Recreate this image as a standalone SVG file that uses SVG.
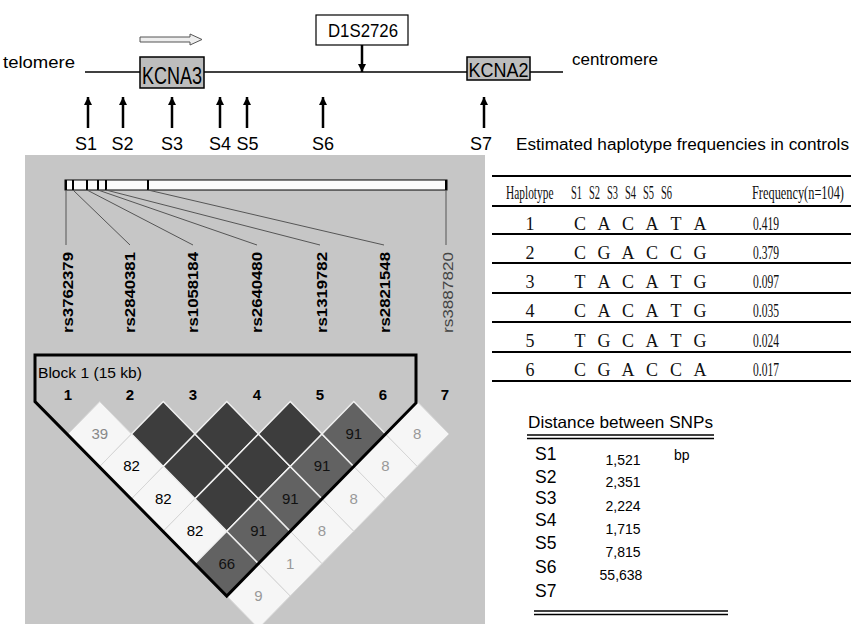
<svg xmlns="http://www.w3.org/2000/svg" width="851" height="624" viewBox="0 0 851 624">
<defs>
<marker id="ah" viewBox="0 0 10 10" refX="10" refY="5" markerWidth="10" markerHeight="8" orient="auto" markerUnits="userSpaceOnUse"><path d="M0,0 L10,5 L0,10 z" fill="#000"/></marker>
</defs>
<style>
.s{font-family:"Liberation Sans",Arial,sans-serif;fill:#000}
.gene{fill:#bdbdbd;stroke:#000;stroke-width:1.5}
.arr{stroke:#000;stroke-width:2.5;fill:none;marker-end:url(#ah)}
.dk{fill:#3d3d3d;stroke:#f0f0f0;stroke-width:1.5}
.md{fill:#626262;stroke:#f0f0f0;stroke-width:1.5}
.wh{fill:#f6f6f6;stroke:#d6d6d6;stroke-width:1}
.ld{font-family:"Liberation Sans",Arial,sans-serif;font-size:15px;text-anchor:middle}
.rs{font-family:"Liberation Sans",Arial,sans-serif;font-size:14px;font-weight:bold}
.num{font-family:"Liberation Sans",Arial,sans-serif;font-size:15px;font-weight:bold;text-anchor:middle}
.rule{stroke:#000;stroke-width:2}
.hd{font-family:"Liberation Serif","Times New Roman",serif;font-size:19px;fill:#111}
.cell{font-family:"Liberation Serif","Times New Roman",serif;font-size:18px;fill:#111;text-anchor:middle}
.tk{stroke:#555;stroke-width:1}
</style>
<rect x="0" y="0" width="851" height="624" fill="#fff"/>

<g id="gene-map">
<text class="s" x="3" y="68" font-size="17" textLength="72" lengthAdjust="spacingAndGlyphs">telomere</text>
<line x1="85" y1="72" x2="563" y2="72" stroke="#000" stroke-width="1.5"/>
<text class="s" x="572" y="65" font-size="17" textLength="86" lengthAdjust="spacingAndGlyphs">centromere</text>
</g>

<g id="KCNA3">
<polygon points="140,37 190,37 190,34 202,39.5 190,45 190,42 140,42" fill="#eee" stroke="#555" stroke-width="1"/>
<rect class="gene" x="140" y="57" width="64" height="31"/>
<text class="s" x="142" y="84" font-size="23" textLength="60" lengthAdjust="spacingAndGlyphs">KCNA3</text>
</g>

<g id="KCNA2">
<rect class="gene" x="467" y="57" width="63" height="23"/>
<text class="s" x="468.5" y="77" font-size="20" textLength="60" lengthAdjust="spacingAndGlyphs">KCNA2</text>
</g>

<g id="D1S2726">
<rect x="316" y="15" width="92" height="30" fill="#fff" stroke="#000" stroke-width="1.2"/>
<text class="s" x="328" y="37" font-size="18" textLength="70" lengthAdjust="spacingAndGlyphs">D1S2726</text>
</g>

<g id="snp-labels" class="s" font-size="18" text-anchor="middle">
<text x="86" y="150">S1</text>
<text x="122.5" y="150">S2</text>
<text x="172" y="150">S3</text>
<text x="220" y="150">S4</text>
<text x="247.5" y="150">S5</text>
<text x="323" y="150">S6</text>
<text x="481" y="150">S7</text>
</g>

<g id="connectors">
<line class="arr" x1="362" y1="45" x2="362" y2="72"/>
<line class="arr" x1="88" y1="128" x2="88" y2="97"/>
<line class="arr" x1="123" y1="128" x2="123" y2="97"/>
<line class="arr" x1="172" y1="128" x2="172" y2="97"/>
<line class="arr" x1="220" y1="128" x2="220" y2="97"/>
<line class="arr" x1="247" y1="128" x2="247" y2="97"/>
<line class="arr" x1="323" y1="128" x2="323" y2="97"/>
<line class="arr" x1="484" y1="128" x2="484" y2="97"/>
</g>

<g id="ld-panel">
<rect x="25" y="155" width="460" height="469" fill="#c6c6c6"/>
<rect x="65" y="180" width="382" height="10" fill="#fbfbfb" stroke="#000" stroke-width="1"/>
<g stroke="#000" stroke-width="2">
<line x1="66" y1="180" x2="66" y2="190"/>
<line x1="73" y1="180" x2="73" y2="190"/>
<line x1="87" y1="180" x2="87" y2="190"/>
<line x1="98" y1="180" x2="98" y2="190"/>
<line x1="106" y1="180" x2="106" y2="190"/>
<line x1="148" y1="180" x2="148" y2="190"/>
<line x1="446" y1="180" x2="446" y2="190"/>
</g>
<g class="tk">
<line x1="66" y1="190" x2="66" y2="245"/>
<line x1="73" y1="190" x2="130" y2="245"/>
<line x1="87" y1="190" x2="193" y2="245"/>
<line x1="98" y1="190" x2="257" y2="245"/>
<line x1="106" y1="190" x2="320" y2="245"/>
<line x1="148" y1="190" x2="384" y2="245"/>
<line x1="446" y1="190" x2="446" y2="245"/>
</g>
<g class="rs">
<text transform="translate(73,333) rotate(-90)" textLength="81" lengthAdjust="spacingAndGlyphs">rs3762379</text>
<text transform="translate(135,333) rotate(-90)" textLength="81" lengthAdjust="spacingAndGlyphs">rs2840381</text>
<text transform="translate(198,333) rotate(-90)" textLength="81" lengthAdjust="spacingAndGlyphs">rs1058184</text>
<text transform="translate(262,333) rotate(-90)" textLength="81" lengthAdjust="spacingAndGlyphs">rs2640480</text>
<text transform="translate(327,333) rotate(-90)" textLength="81" lengthAdjust="spacingAndGlyphs">rs1319782</text>
<text transform="translate(390,333) rotate(-90)" textLength="81" lengthAdjust="spacingAndGlyphs">rs2821548</text>
<text transform="translate(453,333) rotate(-90)" textLength="81" lengthAdjust="spacingAndGlyphs" font-weight="normal" fill="#444">rs3887820</text>
</g>
<text class="s" x="38" y="378" font-size="14.5" textLength="104" lengthAdjust="spacingAndGlyphs">Block 1 (15 kb)</text>
<g class="num">
<text x="68" y="400">1</text><text x="130" y="400">2</text><text x="193" y="400">3</text><text x="257" y="400">4</text><text x="320" y="400">5</text><text x="383" y="400">6</text><text x="445" y="400">7</text>
</g>
<g id="ld-cells">
<polygon class="wh" points="99.75,401.6 131.5,434 99.75,466.4 68,434"/>
<polygon class="wh" points="131.5,434 163.25,466.4 131.5,498.8 99.75,466.4"/>
<polygon class="wh" points="163.25,466.4 195,498.8 163.25,531.2 131.5,498.8"/>
<polygon class="wh" points="195,498.8 226.75,531.2 195,563.6 163.25,531.2"/>
<polygon class="wh" points="258.5,563.6 290.25,596 258.5,628.4 226.75,596"/>
<polygon class="wh" points="290.25,531.2 322,563.6 290.25,596 258.5,563.6"/>
<polygon class="wh" points="322,498.8 353.75,531.2 322,563.6 290.25,531.2"/>
<polygon class="wh" points="353.75,466.4 385.5,498.8 353.75,531.2 322,498.8"/>
<polygon class="wh" points="385.5,434 417.25,466.4 385.5,498.8 353.75,466.4"/>
<polygon class="wh" points="417.25,401.6 449,434 417.25,466.4 385.5,434"/>
<polygon class="dk" points="163.25,401.6 195,434 163.25,466.4 131.5,434"/>
<polygon class="dk" points="195,434 226.75,466.4 195,498.8 163.25,466.4"/>
<polygon class="dk" points="226.75,466.4 258.5,498.8 226.75,531.2 195,498.8"/>
<polygon class="dk" points="226.75,401.6 258.5,434 226.75,466.4 195,434"/>
<polygon class="dk" points="258.5,434 290.25,466.4 258.5,498.8 226.75,466.4"/>
<polygon class="dk" points="290.25,401.6 322,434 290.25,466.4 258.5,434"/>
<polygon class="md" points="226.75,531.2 258.5,563.6 226.75,596 195,563.6" fill="#6a6a6a"/>
<polygon class="md" points="258.5,498.8 290.25,531.2 258.5,563.6 226.75,531.2"/>
<polygon class="md" points="290.25,466.4 322,498.8 290.25,531.2 258.5,498.8"/>
<polygon class="md" points="322,434 353.75,466.4 322,498.8 290.25,466.4"/>
<polygon class="md" points="353.75,401.6 385.5,434 353.75,466.4 322,434"/>
</g>
<g class="ld">
<text x="99.75" y="439" fill="#888">39</text>
<text x="131.5" y="471.4" fill="#000">82</text>
<text x="163.25" y="503.8" fill="#000">82</text>
<text x="195" y="536.2" fill="#000">82</text>
<text x="226.75" y="568.6" fill="#111">66</text>
<text x="258.5" y="601" fill="#999">9</text>
<text x="258.5" y="536.2" fill="#111">91</text>
<text x="290.25" y="568.6" fill="#999">1</text>
<text x="290.25" y="503.8" fill="#111">91</text>
<text x="322" y="536.2" fill="#999">8</text>
<text x="322" y="471.4" fill="#111">91</text>
<text x="353.75" y="503.8" fill="#999">8</text>
<text x="353.75" y="439" fill="#111">91</text>
<text x="385.5" y="471.4" fill="#999">8</text>
<text x="417.25" y="439" fill="#999">8</text>
</g>
<path d="M35,355 L416,355 L416,403 L226.75,596 L35,401.6 Z" fill="none" stroke="#000" stroke-width="3" stroke-linejoin="miter"/>
</g>

<g id="haplotype-table">
<text class="s" x="516" y="150" font-size="16" textLength="333" lengthAdjust="spacingAndGlyphs">Estimated haplotype frequencies in controls</text>
<line class="rule" x1="492" y1="176" x2="851" y2="176"/>
<line class="rule" x1="492" y1="206" x2="851" y2="206"/>
<line class="rule" x1="492" y1="234" x2="851" y2="234"/>
<line class="rule" x1="492" y1="263" x2="851" y2="263"/>
<line class="rule" x1="492" y1="293" x2="851" y2="293"/>
<line class="rule" x1="492" y1="322" x2="851" y2="322"/>
<line class="rule" x1="492" y1="352" x2="851" y2="352"/>
<line class="rule" x1="492" y1="381" x2="851" y2="381"/>
<g class="hd">
<text transform="translate(506,199) scale(0.6,1)">Haplotype</text>
<text transform="translate(571,199) scale(0.55,1)">S1</text>
<text transform="translate(589,199) scale(0.55,1)">S2</text>
<text transform="translate(607,199) scale(0.55,1)">S3</text>
<text transform="translate(625,199) scale(0.55,1)">S4</text>
<text transform="translate(643,199) scale(0.55,1)">S5</text>
<text transform="translate(661,199) scale(0.55,1)">S6</text>
<text transform="translate(752,199) scale(0.65,1)">Frequency(n=104)</text>
</g>
<g class="cell">
<text x="530" y="230">1</text><text x="580" y="230">C</text><text x="604" y="230">A</text><text x="628" y="230">C</text><text x="652" y="230">A</text><text x="676" y="230">T</text><text x="700" y="230">A</text><text x="766" y="230" textLength="26" lengthAdjust="spacingAndGlyphs">0.419</text>
<text x="530" y="259">2</text><text x="580" y="259">C</text><text x="604" y="259">G</text><text x="628" y="259">A</text><text x="652" y="259">C</text><text x="676" y="259">C</text><text x="700" y="259">G</text><text x="766" y="259" textLength="26" lengthAdjust="spacingAndGlyphs">0.379</text>
<text x="530" y="288">3</text><text x="580" y="288">T</text><text x="604" y="288">A</text><text x="628" y="288">C</text><text x="652" y="288">A</text><text x="676" y="288">T</text><text x="700" y="288">G</text><text x="766" y="288" textLength="26" lengthAdjust="spacingAndGlyphs">0.097</text>
<text x="530" y="317">4</text><text x="580" y="317">C</text><text x="604" y="317">A</text><text x="628" y="317">C</text><text x="652" y="317">A</text><text x="676" y="317">T</text><text x="700" y="317">G</text><text x="766" y="317" textLength="26" lengthAdjust="spacingAndGlyphs">0.035</text>
<text x="530" y="347">5</text><text x="580" y="347">T</text><text x="604" y="347">G</text><text x="628" y="347">C</text><text x="652" y="347">A</text><text x="676" y="347">T</text><text x="700" y="347">G</text><text x="766" y="347" textLength="26" lengthAdjust="spacingAndGlyphs">0.024</text>
<text x="530" y="376">6</text><text x="580" y="376">C</text><text x="604" y="376">G</text><text x="628" y="376">A</text><text x="652" y="376">C</text><text x="676" y="376">C</text><text x="700" y="376">A</text><text x="766" y="376" textLength="26" lengthAdjust="spacingAndGlyphs">0.017</text>
</g>
</g>

<g id="distance-table">
<text class="s" x="528" y="428" font-size="16.5" textLength="185" lengthAdjust="spacingAndGlyphs">Distance between SNPs</text>
<line x1="527" y1="435" x2="714" y2="435" stroke="#000" stroke-width="1.5"/>
<line x1="527" y1="438.5" x2="714" y2="438.5" stroke="#000" stroke-width="1.5"/>
<g class="s" font-size="17.5">
<text x="535" y="460">S1</text><text x="535" y="483">S2</text><text x="535" y="504">S3</text><text x="535" y="526">S4</text><text x="535" y="549">S5</text><text x="535" y="573">S6</text><text x="535" y="597">S7</text>
</g>
<g class="s" font-size="14" text-anchor="middle">
<text x="623" y="465">1,521</text><text x="623" y="487">2,351</text><text x="623" y="511">2,224</text><text x="623" y="534">1,715</text><text x="623" y="557">7,815</text><text x="621" y="580">55,638</text>
</g>
<text class="s" x="674" y="460" font-size="14">bp</text>
<line x1="534" y1="611" x2="728" y2="611" stroke="#000" stroke-width="1.5"/>
<line x1="534" y1="614.5" x2="728" y2="614.5" stroke="#000" stroke-width="1.5"/>
</g>
</svg>
